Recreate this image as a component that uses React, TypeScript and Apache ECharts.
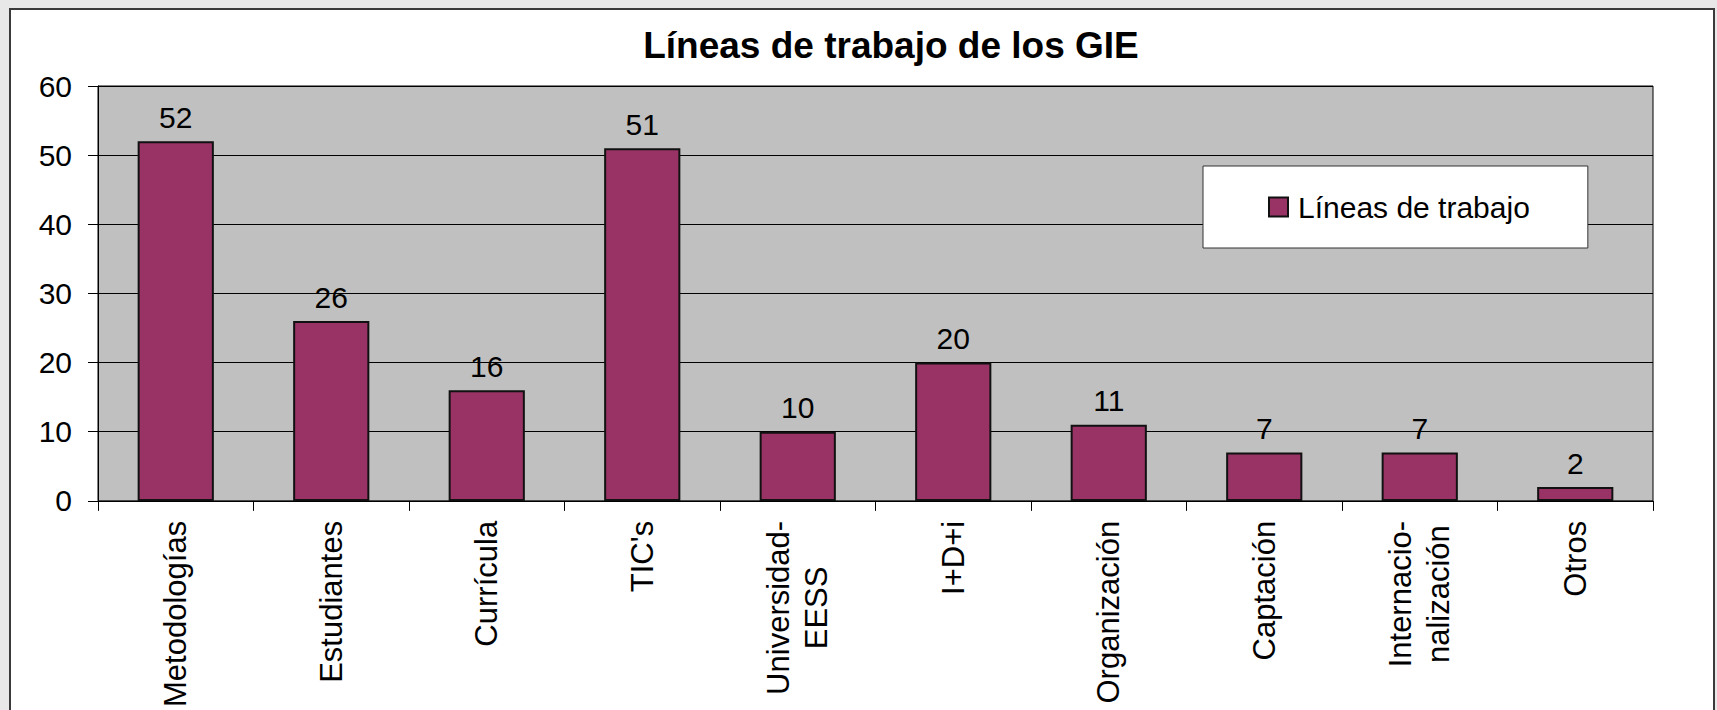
import React, { useEffect, useRef } from "react";
import * as echarts from "echarts";

const titleText = "Líneas de trabajo de los GIE";
const seriesName = "Líneas de trabajo";
const categories = [
  "Metodologías",
  "Estudiantes",
  "Currícula",
  "TIC's",
  "Universidad-\nEESS",
  "I+D+i",
  "Organización",
  "Captación",
  "Internacio-\nnalización",
  "Otros",
];
const values = [52, 26, 16, 51, 10, 20, 11, 7, 7, 2];
const yMin = 0;
const yMax = 60;
const yInterval = 10;

const FONT = "'Liberation Sans', Arial, Helvetica, sans-serif";

export default function App() {
  const ref = useRef<HTMLDivElement>(null);

  useEffect(() => {
    document.body.style.margin = "0";
    if (!ref.current) return;
    const chart = echarts.init(ref.current, undefined, { renderer: "svg" });
    chart.setOption({
      animation: false,
      textStyle: { fontFamily: FONT },
      graphic: [
        {
          type: "text",
          x: 891,
          y: 45,
          style: {
            text: titleText,
            fontFamily: FONT,
            fontSize: 37,
            fontWeight: "bold",
            fill: "#000",
            align: "center",
            verticalAlign: "middle",
          },
        },
      ],
      legend: {
        data: [seriesName],
        left: 1203,
        top: 166,
        padding: [26, 58, 26, 65],
        backgroundColor: "#fff",
        borderColor: "#333",
        borderWidth: 1,
        borderRadius: 0,
        itemWidth: 19,
        itemHeight: 19,
        icon: "rect",
        textStyle: {
          fontFamily: FONT,
          fontSize: 30,
          color: "#000",
          padding: [0, 0, 0, 5],
        },
      },
      grid: {
        left: 98,
        top: 86,
        right: 64,
        bottom: 208,
        show: true,
        backgroundColor: "#c0c0c0",
        borderColor: "#000",
        borderWidth: 1,
      },
      xAxis: {
        type: "category",
        data: categories,
        axisLine: { lineStyle: { color: "#000", width: 1 } },
        axisTick: { show: true, length: 10, lineStyle: { color: "#000" } },
        axisLabel: {
          rotate: 90,
          margin: 20,
          color: "#000",
          fontFamily: FONT,
          fontSize: 31,
          lineHeight: 38,
          interval: 0,
          formatter: (v: string) =>
            v
              .split("\n")
              .map((s) => "{c|" + s + "}")
              .join("\n"),
          rich: {
            c: {
              fontFamily: FONT,
              fontSize: 31,
              lineHeight: 38,
              color: "#000",
              align: "center",
            },
          },
        },
      },
      yAxis: {
        type: "value",
        min: yMin,
        max: yMax,
        interval: yInterval,
        axisLine: { show: true, lineStyle: { color: "#000", width: 1 } },
        axisTick: { show: true, length: 10, lineStyle: { color: "#000" } },
        splitLine: { show: true, lineStyle: { color: "#000", width: 1 } },
        axisLabel: {
          margin: 26,
          color: "#000",
          fontFamily: FONT,
          fontSize: 30,
        },
      },
      series: [
        {
          name: seriesName,
          type: "bar",
          data: values,
          barWidth: "49%",
          itemStyle: {
            color: "#993366",
            borderColor: "#111",
            borderWidth: 2,
          },
          label: {
            show: true,
            position: "top",
            distance: 9,
            color: "#000",
            fontFamily: FONT,
            fontSize: 30,
          },
        },
      ],
    });
    return () => chart.dispose();
  }, []);

  return (
    <div
      style={{
        position: "fixed",
        left: 0,
        top: 0,
        width: 1717,
        height: 710,
        background: "#e8e8e8",
        overflow: "hidden",
      }}
    >
      <div
        style={{
          position: "absolute",
          left: 9,
          top: 8,
          width: 1706,
          height: 720,
          background: "#fff",
          borderLeft: "2px solid #3a3a3a",
          borderTop: "2px solid #3a3a3a",
          borderRight: "2px solid #3a3a3a",
          boxSizing: "border-box",
        }}
      />
      <div
        ref={ref}
        style={{ position: "absolute", left: 0, top: 0, width: 1717, height: 710 }}
      />
    </div>
  );
}
